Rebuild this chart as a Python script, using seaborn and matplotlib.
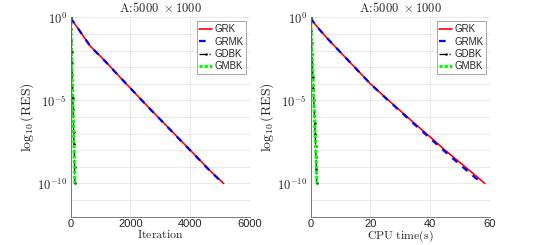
import matplotlib
matplotlib.use('Agg')
import matplotlib.pyplot as plt
import matplotlib.ticker as mticker
import seaborn as sns

# ---- data (residual vs iteration / cpu time) ----
grk_iter = [0, 100, 250, 650, 1150, 1650, 2150, 2650, 3150, 3650, 4150, 4650, 5120]
grk_iter_res = [1.0, 5.0e-1, 2.1e-1, 1.9e-2, 2.4e-3, 2.5e-4, 2.8e-5, 3.2e-6, 3.8e-7, 4.5e-8, 5.4e-9, 6.3e-10, 1.0e-10]
grmk_iter = [0, 100, 250, 650, 1150, 1650, 2150, 2650, 3150, 3650, 4150, 4650, 5100]
grmk_iter_res = [1.0, 4.9e-1, 2.1e-1, 1.9e-2, 2.3e-3, 2.5e-4, 2.8e-5, 3.1e-6, 3.7e-7, 4.4e-8, 5.2e-9, 6.0e-10, 1.0e-10]
gdbk_iter = [0, 10, 20, 30, 40, 50, 60, 70, 80, 90, 100, 110, 120, 130, 140]
gdbk_iter_res = [1.0, 2.0e-1, 4.0e-2, 8.5e-3, 1.7e-3, 3.5e-4, 7.0e-5, 1.4e-5, 2.9e-6, 5.8e-7, 1.2e-7, 2.4e-8, 4.8e-9, 9.6e-10, 1.0e-10]
gmbk_iter = [0, 10, 20, 30, 40, 50, 60, 70, 80, 90, 100, 110, 120, 130, 138]
gmbk_iter_res = [1.0, 2.0e-1, 4.0e-2, 8.0e-3, 1.6e-3, 3.2e-4, 6.5e-5, 1.3e-5, 2.6e-6, 5.2e-7, 1.0e-7, 2.1e-8, 4.2e-9, 8.4e-10, 1.0e-10]

grk_time = [0, 1, 3, 6, 10, 15, 20, 25, 30, 35, 40, 45, 50, 55, 58.3]
grk_time_res = [1.0, 5.0e-1, 1.8e-1, 4.5e-2, 7.9e-3, 8.9e-4, 1.0e-4, 1.5e-5, 2.4e-6, 3.8e-7, 6.3e-8, 1.0e-8, 1.8e-9, 3.2e-10, 1.0e-10]
grmk_time = [0, 1, 3, 6, 10, 15, 20, 25, 30, 35, 40, 45, 50, 55, 57.6]
grmk_time_res = [1.0, 5.0e-1, 1.8e-1, 4.5e-2, 7.9e-3, 8.9e-4, 1.0e-4, 1.45e-5, 2.2e-6, 3.3e-7, 5.2e-8, 8.2e-9, 1.35e-9, 2.3e-10, 1.0e-10]
gdbk_time = [0, 0.15, 0.3, 0.45, 0.6, 0.75, 0.9, 1.05, 1.2, 1.35, 1.5, 1.65, 1.8, 1.95, 2.05]
gdbk_time_res = [1.0, 1.5e-1, 3.0e-2, 6.0e-3, 1.3e-3, 2.6e-4, 5.5e-5, 1.1e-5, 2.3e-6, 4.6e-7, 9.5e-8, 1.9e-8, 3.8e-9, 7.6e-10, 1.0e-10]
gmbk_time = [0, 0.15, 0.3, 0.45, 0.6, 0.75, 0.9, 1.05, 1.2, 1.35, 1.5, 1.65, 1.8, 1.95, 2.1]
gmbk_time_res = [1.0, 2.0e-1, 4.0e-2, 8.0e-3, 1.6e-3, 3.2e-4, 6.5e-5, 1.3e-5, 2.6e-6, 5.2e-7, 1.0e-7, 2.1e-8, 4.2e-9, 8.4e-10, 1.0e-10]

title_txt = r'$\mathrm{A\!:\!5000\ \times 1000}$'
ylabel_txt = r'$\log_{10}(\mathrm{RES})$'
ytick_vals = [1e0, 1e-5, 1e-10]
ytick_labels = [r'$\mathsf{10^{0}}$', r'$\mathsf{10^{-5}}$', r'$\mathsf{10^{-10}}$']

sns.set_style('white')
plt.rcParams['font.family'] = ['Liberation Sans', 'DejaVu Sans']
plt.rcParams['mathtext.fontset'] = 'cm'

fig = plt.figure(figsize=(5.45, 2.45), dpi=100)
ax1 = fig.add_axes([0.1297, 0.1155, 0.329, 0.8135])
ax2 = fig.add_axes([0.570, 0.1155, 0.329, 0.8135])


def draw(ax, series):
    (x1, y1), (x2, y2), (x3, y3), (x4, y4) = series
    sns.lineplot(x=x1, y=y1, ax=ax, color='#ff0000', lw=1.2, label='GRK', sort=False)
    sns.lineplot(x=x2, y=y2, ax=ax, color='#0000ff', lw=1.6, label='GRMK', sort=False)
    ax.lines[-1].set_linestyle((0, (3, 3)))
    sns.lineplot(x=x3, y=y3, ax=ax, color='black', lw=0.9, marker='.', markersize=3.5,
                 markeredgewidth=0, label='GDBK', sort=False)
    ax.lines[-1].set_linestyle('-.')
    sns.lineplot(x=x4, y=y4, ax=ax, color='#00ff00', lw=2.3, label='GMBK', sort=False)
    ax.lines[-1].set_linestyle((0, (1, 0.6)))


def style_axes(ax, xmax, xticks, xlabel):
    ax.set_yscale('log')
    ax.set_ylim(1e-12, 1e0)
    ax.set_xlim(0, xmax)
    ax.set_xticks(xticks)
    ax.set_xticklabels([str(t) for t in xticks], fontsize=8)
    ax.set_yticks(ytick_vals)
    ax.set_yticklabels(ytick_labels, fontsize=9)
    ax.yaxis.set_minor_locator(mticker.LogLocator(base=10, subs=[1.0], numticks=30))
    ax.yaxis.set_minor_formatter(mticker.NullFormatter())
    ax.set_axisbelow(True)
    ax.grid(True, which='both', axis='y', color='#e6e6e6', lw=0.6)
    ax.grid(True, which='major', axis='x', color='#e6e6e6', lw=0.6)
    for s in ['top', 'right']:
        ax.spines[s].set_visible(False)
    for s in ['left', 'bottom']:
        ax.spines[s].set_color('#666666')
        ax.spines[s].set_linewidth(0.6)
    ax.tick_params(which='major', direction='in', length=2.5, width=0.5, color='#666666', pad=2.5)
    ax.tick_params(axis='x', which='major', pad=1.5)
    ax.tick_params(which='minor', length=0)
    ax.set_title(title_txt, fontsize=9, pad=4)
    ax.set_xlabel(xlabel, fontsize=8.5, labelpad=0.3)
    ax.set_ylabel(ylabel_txt, fontsize=10, labelpad=1)
    leg = ax.legend(loc='upper right', fontsize=7, frameon=True, fancybox=False,
                    handlelength=1.3, handletextpad=0.2, labelspacing=0.25,
                    borderpad=0.3, borderaxespad=0.4, framealpha=1)
    leg.get_frame().set_edgecolor('#999999')
    leg.get_frame().set_linewidth(0.6)


draw(ax1, [(grk_iter, grk_iter_res), (grmk_iter, grmk_iter_res),
           (gdbk_iter, gdbk_iter_res), (gmbk_iter, gmbk_iter_res)])
draw(ax2, [(grk_time, grk_time_res), (grmk_time, grmk_time_res),
           (gdbk_time, gdbk_time_res), (gmbk_time, gmbk_time_res)])

style_axes(ax1, 6000, [0, 2000, 4000, 6000], r'$\mathrm{Iteration}$')
style_axes(ax2, 60, [0, 20, 40, 60], r'$\mathrm{CPU\ time(s)}$')

plt.savefig('out.png', dpi=100)
plt.close()
